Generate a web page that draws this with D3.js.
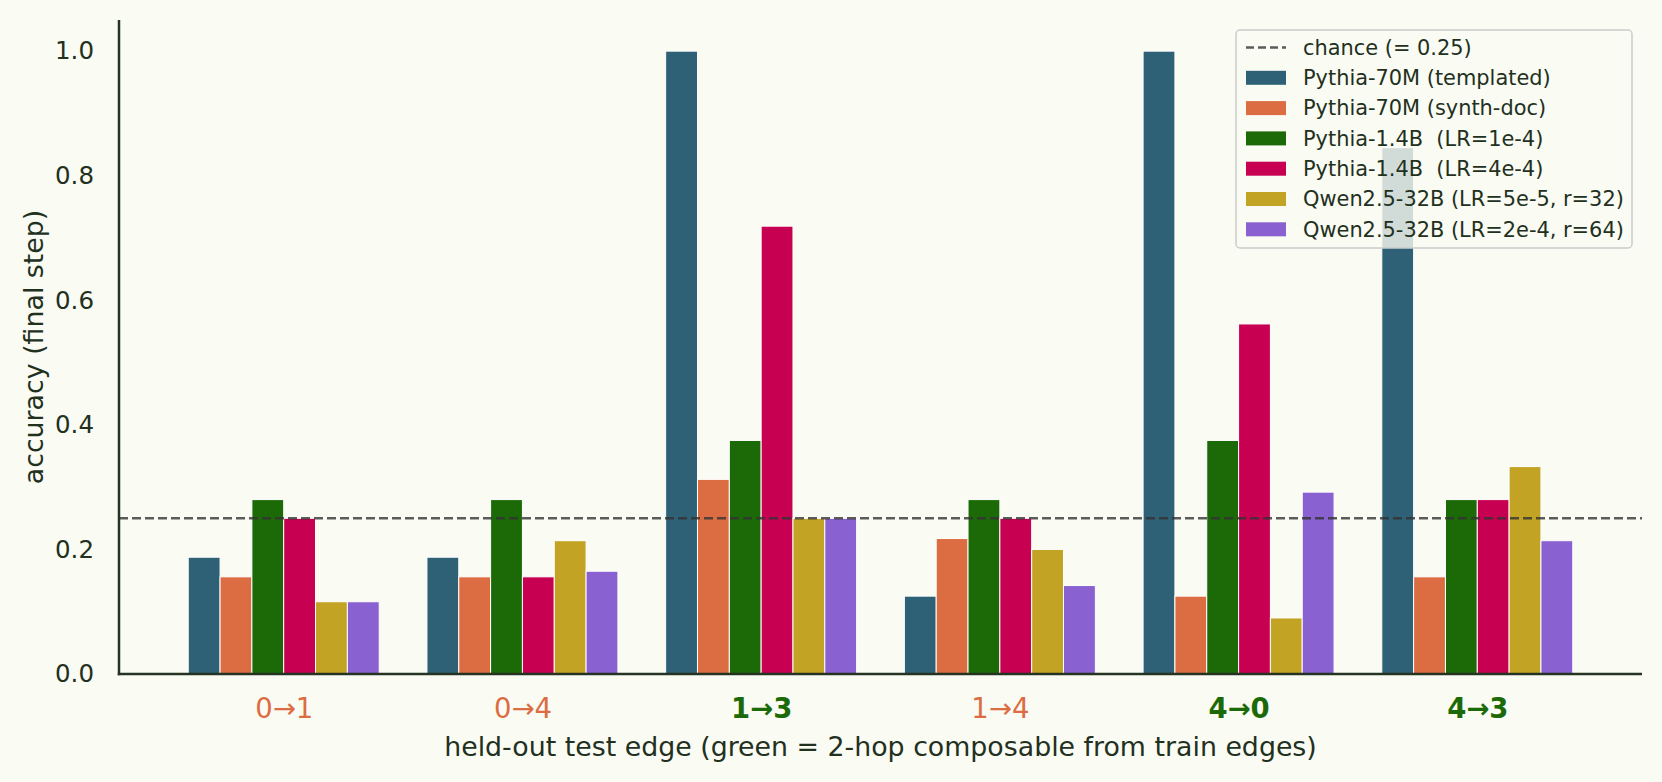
<!DOCTYPE html>
<html>
<head>
<meta charset="utf-8">
<script src="https://cdn.jsdelivr.net/npm/d3@7"></script>
<style>
  body { margin: 0; background: #fafbf3; }
  svg text { font-family: "DejaVu Sans", sans-serif; fill: #22301e; }
</style>
</head>
<body>
<div class="chart"></div>
<script>
const svgWidth = 1662
const svgHeight = 782

// categories (held-out test edges) and whether they are 2-hop composable
const edges = ["0→1", "0→4", "1→3", "1→4", "4→0", "4→3"]
const composable = [false, false, true, false, true, true]

const seriesNames = [
  "Pythia-70M (templated)",
  "Pythia-70M (synth-doc)",
  "Pythia-1.4B  (LR=1e-4)",
  "Pythia-1.4B  (LR=4e-4)",
  "Qwen2.5-32B (LR=5e-5, r=32)",
  "Qwen2.5-32B (LR=2e-4, r=64)"
]
const seriesColors = ["#2e6175", "#dc6d43", "#1c6a07", "#c70051", "#c2a323", "#8961d0"]

const pythia70mTemplated = [0.1875, 0.1875, 1.0, 0.125, 1.0, 0.845]
const pythia70mSynthDoc = [0.156, 0.156, 0.3125, 0.2175, 0.125, 0.156]
const pythia14bLR1e4 = [0.28, 0.28, 0.375, 0.28, 0.375, 0.28]
const pythia14bLR4e4 = [0.25, 0.156, 0.719, 0.25, 0.562, 0.28]
const qwenLR5e5 = [0.116, 0.214, 0.25, 0.2, 0.09, 0.333]
const qwenLR2e4 = [0.116, 0.165, 0.25, 0.142, 0.292, 0.214]
const seriesValues = [pythia70mTemplated, pythia70mSynthDoc, pythia14bLR1e4, pythia14bLR4e4, qwenLR5e5, qwenLR2e4]

const chance = 0.25
const yTicks = [0.0, 0.2, 0.4, 0.6, 0.8, 1.0]

const composableColor = "#1c6a07"
const otherColor = "#dc6d43"
const inkColor = "#22301e"

let margin = { top: 20, right: 20, bottom: 108, left: 119 }
let width = svgWidth - margin.left - margin.right
let height = svgHeight - margin.top - margin.bottom

let svg = d3.select(".chart")
  .append("svg")
  .attr("width", svgWidth)
  .attr("height", svgHeight)

svg.append("rect")
  .attr("width", svgWidth)
  .attr("height", svgHeight)
  .attr("fill", "#fafbf3")

let chartGroup = svg.append("g")
  .attr("transform", `translate(${margin.left}, ${margin.top})`)

// group of 6 bars spans 0.8 category units
let nSeries = seriesNames.length
let barW = 0.8 / nSeries

let xScale = d3.scaleLinear()
  .domain([-0.69, edges.length - 1 + 0.69])
  .range([0, width])

let yScale = d3.scaleLinear()
  .domain([0, 1.05])
  .range([height, 0])

// bars
seriesValues.forEach((vals, s) => {
  chartGroup.append("g")
    .selectAll("rect")
    .data(vals)
    .enter()
    .append("rect")
    .attr("x", (d, i) => xScale(i + (s - nSeries / 2) * barW))
    .attr("y", d => yScale(d))
    .attr("width", xScale(barW) - xScale(0))
    .attr("height", d => yScale(0) - yScale(d))
    .attr("fill", seriesColors[s])
    .attr("stroke", "#ffffff")
    .attr("stroke-width", 1)
})

// chance line
chartGroup.append("line")
  .attr("x1", 0)
  .attr("x2", width)
  .attr("y1", yScale(chance))
  .attr("y2", yScale(chance))
  .attr("stroke", "#333")
  .attr("stroke-opacity", 0.8)
  .attr("stroke-width", 2.5)
  .attr("stroke-dasharray", "9,4")

// axes
let leftAxis = d3.axisLeft(yScale)
  .tickValues(yTicks)
  .tickSize(0)
  .tickPadding(25)
  .tickFormat(d3.format(".1f"))

let bottomAxis = d3.axisBottom(xScale)
  .tickValues(d3.range(edges.length))
  .tickSize(0)
  .tickPadding(24)
  .tickFormat(i => edges[i])

let yAxisG = chartGroup.append("g").call(leftAxis)
yAxisG.selectAll("text").style("font-size", "24.5px").attr("fill", inkColor)

let xAxisG = chartGroup.append("g")
  .attr("transform", `translate(0, ${height})`)
  .call(bottomAxis)
xAxisG.selectAll("text")
  .style("font-size", "27.5px")
  .attr("dy", "0.71em")
  .attr("fill", i => composable[i] ? composableColor : otherColor)
  .style("fill", i => composable[i] ? composableColor : otherColor)
  .style("font-weight", i => composable[i] ? "bold" : "normal")

// spines
chartGroup.selectAll(".domain").remove()
chartGroup.append("line")
  .attr("x1", 0).attr("x2", 0)
  .attr("y1", 0).attr("y2", height + 1.2)
  .attr("stroke", "#243322").attr("stroke-width", 2.5)
chartGroup.append("line")
  .attr("x1", -1.2).attr("x2", width)
  .attr("y1", height).attr("y2", height)
  .attr("stroke", "#243322").attr("stroke-width", 2.5)

// axis labels
chartGroup.append("text")
  .attr("x", width / 2)
  .attr("y", height + 82)
  .attr("text-anchor", "middle")
  .style("font-size", "26.8px")
  .text("held-out test edge (green = 2-hop composable from train edges)")

chartGroup.append("text")
  .attr("transform", "rotate(-90)")
  .attr("x", -(height / 2))
  .attr("y", -76)
  .attr("text-anchor", "middle")
  .style("font-size", "26.8px")
  .text("accuracy (final step)")

// legend
let legend = svg.append("g").attr("transform", "translate(1236, 30)")
legend.append("rect")
  .attr("width", 396)
  .attr("height", 218)
  .attr("rx", 4)
  .attr("fill", "#fafbf3")
  .attr("fill-opacity", 0.8)
  .attr("stroke", "#cccccc")
  .attr("stroke-width", 1.5)

let rowY = i => 17.5 + i * 30.3

legend.append("line")
  .attr("x1", 10).attr("x2", 50)
  .attr("y1", rowY(0)).attr("y2", rowY(0))
  .attr("stroke", "#333").attr("stroke-opacity", 0.8)
  .attr("stroke-width", 2.5).attr("stroke-dasharray", "8,4")
legend.append("text")
  .attr("x", 67).attr("y", rowY(0))
  .attr("dy", "0.35em")
  .style("font-size", "20.9px")
  .text("chance (= 0.25)")

seriesNames.forEach((name, s) => {
  let y = rowY(s + 1)
  legend.append("rect")
    .attr("x", 10).attr("y", y - 7)
    .attr("width", 40).attr("height", 14)
    .attr("fill", seriesColors[s])
  legend.append("text")
    .attr("x", 67).attr("y", y)
    .attr("dy", "0.35em")
    .style("font-size", "20.9px")
    .style("white-space", "pre")
    .attr("xml:space", "preserve")
    .text(name)
})
</script>
</body>
</html>
